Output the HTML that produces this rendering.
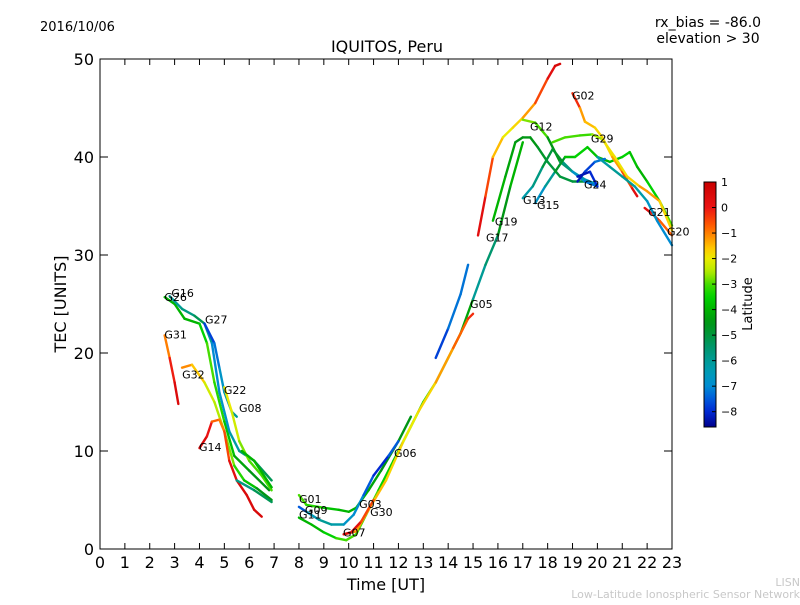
<!DOCTYPE html>
<html><head><meta charset="utf-8"><style>
body{margin:0;background:#fff;font-family:"Liberation Sans","DejaVu Sans",sans-serif}
svg text{font-family:"DejaVu Sans","Liberation Sans",sans-serif}
</style></head><body>
<svg id="c" width="800" height="600" xmlns="http://www.w3.org/2000/svg">
<text x="40" y="31" font-size="13">2016/10/06</text>
<text x="708" y="27" font-size="14" text-anchor="middle">rx_bias = -86.0</text>
<text x="708" y="43" font-size="14" text-anchor="middle">elevation &gt; 30</text>
<text x="387" y="52" font-size="16" text-anchor="middle">IQUITOS, Peru</text>
<text x="386" y="590" font-size="16" text-anchor="middle">Time [UT]</text>
<text x="66" y="304" font-size="16" text-anchor="middle" transform="rotate(-90 66 304)">TEC [UNITS]</text>
<text x="752" y="304" font-size="13" text-anchor="middle" transform="rotate(-90 752 304)">Latitude</text>
<text x="800" y="586" font-size="11" fill="#c8c8c8" text-anchor="end">LISN</text>
<text x="800" y="598" font-size="11" fill="#c8c8c8" text-anchor="end">Low-Latitude Ionospheric Sensor Network</text>
<g id="marks"></g>
<rect x="100" y="59" width="572" height="490" fill="none" stroke="#000" stroke-width="1"/>
<g id="axes"></g>
<g id="cbar"></g>
</svg>
<script>
const xTicks=[0,1,2,3,4,5,6,7,8,9,10,11,12,13,14,15,16,17,18,19,20,21,22,23];
const yTicks=[0,10,20,30,40,50];
const cbTicks=[1,0,-1,-2,-3,-4,-5,-6,-7,-8];
const trackNames=["G31","G26","G16","G27","G32","G14","G22","G08","G08b","G01","G09","G11","G30","G07","G05","G17","G19","G12","G13","G15","G24","G02","G29","G21","G20","G20b"];
const trackTimes=[
[2.6,2.8,3.0,3.15],
[2.6,3.0,3.4,4.0,4.3,4.6,5.0,5.4,6.0,6.8],
[2.8,3.3,3.8,4.2,4.5,4.8,5.2,5.6,6.2,6.9],
[4.2,4.6,4.8,5.0,5.3,5.5],
[3.3,3.7,4.2,4.6,5.0,5.4,5.8,6.3,6.9],
[4.0,4.3,4.5,4.8,5.0,5.2,5.5,5.9,6.2,6.5],
[5.0,5.3,5.6,6.0,6.5,6.9],
[5.7,6.2,6.9],
[5.5,6.2,6.9],
[8.0,8.3,9.0,9.6,10.0,10.3,10.8,11.3,12.0,12.5],
[8.0,8.3,8.8,9.3,9.8,10.2,10.6,11.0,11.6,12.0],
[8.0,8.5,9.0,9.5,9.9,10.3,10.7,11.2,11.8,12.5,13.0,13.5,14.0,14.5,15.0,15.5,16.0,16.5,17.0],
[9.8,10.3,10.8,11.5,12.2,12.8,13.5,14.2,14.8,15.0],
[9.8,10.1,10.5,11.0],
[13.5,14.0,14.5,14.8],
[15.2,15.5,15.8,16.2,16.6,17.0,17.5,18.0,18.3,18.5],
[15.8,16.3,16.7,17.0,17.3,17.6,18.0,18.5,19.0,19.5],
[17.0,17.5,18.0,18.5,19.0,19.5,20.0],
[17.0,17.4,17.8,18.2,18.6,19.0,19.5,20.0],
[17.5,17.9,18.3,18.7,19.1,19.6,20.0,20.5,21.0,21.3,21.6,22.0,22.5,23.0],
[19.2,19.5,19.9,20.3],
[19.0,19.3,19.5,19.9,20.2,20.6,21.0,21.4,21.6],
[18.2,18.7,19.3,19.8,20.2,20.7,21.2,21.7,22.0,22.5,23.0],
[21.9,22.2,22.5,23.0],
[20.0,20.5,21.0,21.5,22.0,22.4,23.0],
[19.2,19.7,20.0]
];
const trackTec=[
[21.8,19.5,17,14.8],
[25.7,25,23.5,23,21,17,13,9.5,8,6],
[25.8,24.5,23.8,23,21,16,12,10,9,7],
[23,21,18.5,16,14,13.5],
[18.5,18.8,17,15,12,8.5,7,6.2,5],
[10.3,11.5,13,13.2,12,9,7,5.5,4,3.3],
[16.5,14,11,9,7.5,6],
[10,9,6.3],
[7,6,4.8],
[5.5,4.5,4.2,4,3.8,4.2,6,8,11,13.5],
[4.3,3.8,3,2.5,2.5,3.5,5.5,7.5,9.5,11],
[3.2,2.5,1.7,1.1,0.9,1.5,3.5,6,9,12.5,15,17,19.5,22,25.5,29,32,37,41.5],
[1.5,1.8,4,7,11,14,17,20.5,23.5,24],
[1.5,1.7,2.8,5],
[19.5,22.5,26,29],
[32,36,40,42,43,44,45.5,48,49.3,49.5],
[33.5,38,41.5,42,42,41,39.5,38,37.5,37.5],
[43.8,43.5,42,39.5,38.5,37.7,37.2],
[35.8,37,39,40.8,39.5,38.5,37.5,37],
[35.3,37,38.5,40,40,41,40,39.5,40,40.5,39,37.5,35.5,33],
[37.5,38.5,39.5,39.8],
[46.5,45,43.6,43,42,40,38.5,36.8,36],
[41.5,42,42.2,42.3,41.8,40,38,37,36.5,35.5,32.5],
[34.8,34.2,33.5,32],
[40,39,38,37,35.5,33.5,31],
[38,38.5,37]
];
const trackLat=[
[-1.5,-0.5,0.3,0.6],
[-4,-4,-4,-4,-3,-3,-3.5,-4,-4.5,-4.5],
[-6,-6,-5.5,-5,-7,-7,-6.5,-6,-5.5,-5],
[-8,-7.5,-7,-6.5,-6,-6],
[-1,-1.2,-2,-2.5,-2.5,-3,-3.5,-4,-5],
[0.5,0.5,-0.5,-1,-1,0,0.5,0.5,0.5,0.6],
[-2,-2,-2.5,-3,-3,-3],
[-4,-4,-4],
[-6,-5.5,-5],
[-3,-3,-3.5,-4,-4,-4,-4,-4.5,-4.5,-4.5],
[-8,-7,-6,-6,-6.5,-7,-7,-8,-8,-7],
[-4,-4,-3.8,-3.2,-3,-3,-3,-3,-4,-3.5,-3.5,-3,-3,-2.5,-6,-6,-5,-4,-4],
[-1,-1,-1.5,-1.5,-2,-2,-1.5,-1,-0.5,0],
[0.5,0.5,0,-1],
[-8,-7.5,-7,-7.5],
[0.5,0,-1,-2,-2,-1.5,-1,0,0.5,0.7],
[-4,-4,-4.5,-4.5,-4.5,-4.5,-5,-5,-5,-5],
[-3.5,-2,-4,-5,-6,-6.5,-6.5],
[-6.5,-6,-5.5,-4.5,-5,-6.5,-7,-7.5],
[-7,-6.5,-5.5,-4,-3.5,-3.5,-4,-4,-3.5,-3.5,-4,-4,-3,-3],
[-8.5,-8,-7.5,-7],
[0.5,-1,-1.5,-1.5,-2,-1.5,-1,0,0.5],
[-3,-3,-3,-3.2,-2,-1.8,-2,-1.5,-1,-1.5,-2],
[0.5,0,-0.5,-1],
[-6.5,-6,-6,-6,-6.5,-7,-7],
[-8.5,-8,-8]
];
const labelNames=["G26","G16","G27","G31","G32","G22","G08","G14","G01","G09","G11","G07","G03","G30","G06","G05","G17","G19","G13","G15","G12","G02","G29","G24","G21","G20"];
const labelT=[2.59,2.87,4.22,2.59,3.3,4.98,5.59,3.98,8.0,8.24,8.0,9.77,10.42,10.86,11.82,14.88,15.52,15.88,17.01,17.57,17.29,18.98,19.74,19.46,22.04,22.8];
const labelV=[25.7,26.1,23.4,21.9,17.8,16.2,14.4,10.4,5.1,4.0,3.5,1.7,4.6,3.8,9.8,25.0,31.8,33.4,35.6,35.1,43.1,46.3,41.9,37.2,34.4,32.4];

const X=t=>100+t*572/23, Y=v=>549-v*9.8;
const cbY=l=>182+(1-l)*(245/9.6);
const cmapL=[1,0,-0.7,-1.2,-1.6,-2,-2.5,-3,-3.5,-4,-4.5,-5,-5.5,-6,-6.5,-7,-7.5,-8,-8.6];
const cmapC=[[200,0,0],[235,20,20],[255,90,0],[255,150,0],[255,200,0],[235,235,0],[180,235,0],[70,220,0],[0,210,0],[0,180,0],[0,150,20],[0,150,60],[0,150,110],[0,155,150],[0,155,185],[0,140,210],[0,90,220],[0,40,210],[0,0,140]];
function jet(l){
 if(l>=cmapL[0])return `rgb(${cmapC[0]})`;
 for(let i=0;i<cmapL.length-1;i++){
  if(l<=cmapL[i]&&l>=cmapL[i+1]){const f=(cmapL[i]-l)/(cmapL[i]-cmapL[i+1]);
   const c=cmapC[i].map((v,k)=>Math.round(v+(cmapC[i+1][k]-v)*f));return `rgb(${c})`;}
 }
 return `rgb(${cmapC[cmapC.length-1]})`;
}
const NS="http://www.w3.org/2000/svg";
function el(tag,attrs,parent){const e=document.createElementNS(NS,tag);for(const k in attrs)e.setAttribute(k,attrs[k]);parent.appendChild(e);return e;}
const marks=document.getElementById('marks');
trackTimes.forEach((ts,i)=>{
 const g=el('g',{},marks);
 
 
 for(let j=0;j<ts.length-1;j++){
  const s=el('line',{x1:X(ts[j]),y1:Y(trackTec[i][j]),x2:X(ts[j+1]),y2:Y(trackTec[i][j+1]),stroke:jet((trackLat[i][j]+trackLat[i][j+1])/2),'stroke-width':2.4,'stroke-linecap':'round'},g);
  
  
 }
});
labelNames.forEach((n,i)=>{
 const t=el('text',{x:X(labelT[i]),y:Y(labelV[i])+4,'font-size':11},marks);
 t.textContent=n;
 
 
});
const axes=document.getElementById('axes');
xTicks.forEach(t=>{
 const x=X(t);
 el('line',{x1:x,y1:549,x2:x,y2:543,stroke:'#000'},axes);
 el('line',{x1:x,y1:59,x2:x,y2:65,stroke:'#000'},axes);
 const tx=el('text',{x:x,y:568,'font-size':16,'text-anchor':'middle'},axes);
 tx.textContent=t;
 
 
});
yTicks.forEach(v=>{
 const y=Y(v);
 el('line',{x1:100,y1:y,x2:108,y2:y,stroke:'#000'},axes);
 el('line',{x1:672,y1:y,x2:664,y2:y,stroke:'#000'},axes);
 const tx=el('text',{x:94,y:y+6,'font-size':16,'text-anchor':'end'},axes);
 tx.textContent=v;
 
 
});
const cb=document.getElementById('cbar');
const defs=el('defs',{},cb);
const lg=el('linearGradient',{id:'jg',x1:0,y1:0,x2:0,y2:1},defs);
for(let k=0;k<=48;k++){const l=1-k*9.6/48;el('stop',{offset:k/48,'stop-color':jet(l)},lg);}
const r=el('rect',{x:704,y:182,width:12,height:245,fill:'url(#jg)',stroke:'#000','stroke-width':1},cb);


cbTicks.forEach(l=>{
 const y=cbY(l);
 el('line',{x1:712,y1:y,x2:716,y2:y,stroke:'#000'},cb);
 const tx=el('text',{x:721,y:y+4,'font-size':11},cb);
 tx.textContent=l<0?'\u2212'+(-l):l;
 
 
});
</script>
</body></html>
